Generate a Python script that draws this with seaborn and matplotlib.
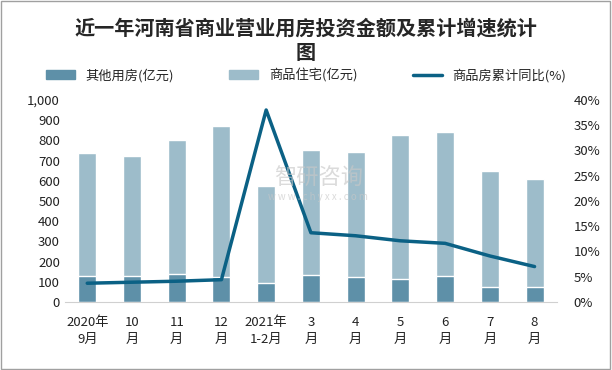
import numpy as np
import pandas as pd
import seaborn as sns
import matplotlib.pyplot as plt
from matplotlib.patches import Patch, Rectangle
from matplotlib.lines import Line2D
from matplotlib.ticker import FuncFormatter

# data
months = ["2020年\n9月", "10\n月", "11\n月", "12\n月", "2021年\n1-2月",
          "3\n月", "4\n月", "5\n月", "6\n月", "7\n月", "8\n月"]
other = [130, 130, 139, 124, 94, 134, 124, 114, 129, 74, 74]
total = [738, 723, 802, 871, 574, 752, 743, 827, 842, 649, 609]
growth = [3.7, 3.9, 4.1, 4.4, 38.0, 13.7, 13.1, 12.1, 11.6, 9.1, 7.0]

c_other = "#5E90A8"
c_house = "#9DBCCA"
c_line = "#0B6185"

sns.set_style("white")
plt.rcParams['font.family'] = ['Noto Sans CJK SC', 'DejaVu Sans']

df = pd.DataFrame({"month": months, "other": other, "total": total})

fig = plt.figure(figsize=(6.12, 3.7), dpi=100)
ax = fig.add_axes([0.106, 0.184, 0.804, 0.546])

sns.barplot(data=df, x="month", y="total", color=c_house, width=0.4,
            saturation=1, ax=ax)
sns.barplot(data=df, x="month", y="other", color=c_other, width=0.4,
            saturation=1, ax=ax)
ax.set_ylim(0, 1000)
ax.set_yticks(range(0, 1001, 100))
ax.yaxis.set_major_formatter(FuncFormatter(lambda v, p: f"{int(v):,}"))
ax.set_xlim(-0.5, len(months) - 0.5)
ax.set_xlabel("")
ax.set_ylabel("")
ax.tick_params(axis="both", length=0, labelsize=9.5, colors="#222222")
ax.tick_params(axis="x", pad=10)
for lab in ax.get_xticklabels():
    lab.set_linespacing(1.45)
for s in ["top", "left", "right"]:
    ax.spines[s].set_visible(False)
ax.spines["bottom"].set_color("#D0D0D0")

ax2 = ax.twinx()
sns.lineplot(x=np.arange(len(months)), y=growth, color=c_line, linewidth=2.5,
             ax=ax2)
ax2.set_ylim(0, 40)
ax2.set_yticks(range(0, 41, 5))
ax2.yaxis.set_major_formatter(FuncFormatter(lambda v, p: f"{int(v)}%"))
ax2.tick_params(axis="y", length=0, labelsize=9.5, colors="#222222", pad=12)
for s in ["top", "left", "right", "bottom"]:
    ax2.spines[s].set_visible(False)

# watermark
fig.text(0.52, 0.519, "智研咨询", fontsize=16, color="#C8C8C8", ha="center",
         va="center", alpha=0.65)
fig.text(0.52, 0.468, "w w w . c h y x x . c o m", fontsize=7, color="#C8C8C8",
         ha="center", va="center", alpha=0.65)

fig.suptitle("近一年河南省商业营业用房投资金额及累计增速统计\n图", x=0.5, y=0.952,
             fontsize=14.5, fontweight="bold", linespacing=1.2)

handles = [Patch(color=c_other), Patch(color=c_house),
           Line2D([0], [0], color=c_line, linewidth=2.5)]
labels = ["其他用房(亿元)", "商品住宅(亿元)", "商品房累计同比(%)"]
fig.legend(handles, labels, loc="center", bbox_to_anchor=(0.5, 0.797), ncol=3,
           frameon=False, fontsize=9.5, columnspacing=4.2, handlelength=2.2,
           handleheight=0.6)

fig.patches.append(Rectangle((0.002, 0.003), 0.995, 0.993, transform=fig.transFigure,
                             fill=False, edgecolor="#A0A0A0", linewidth=1))

fig.savefig("out.png", dpi=100)
